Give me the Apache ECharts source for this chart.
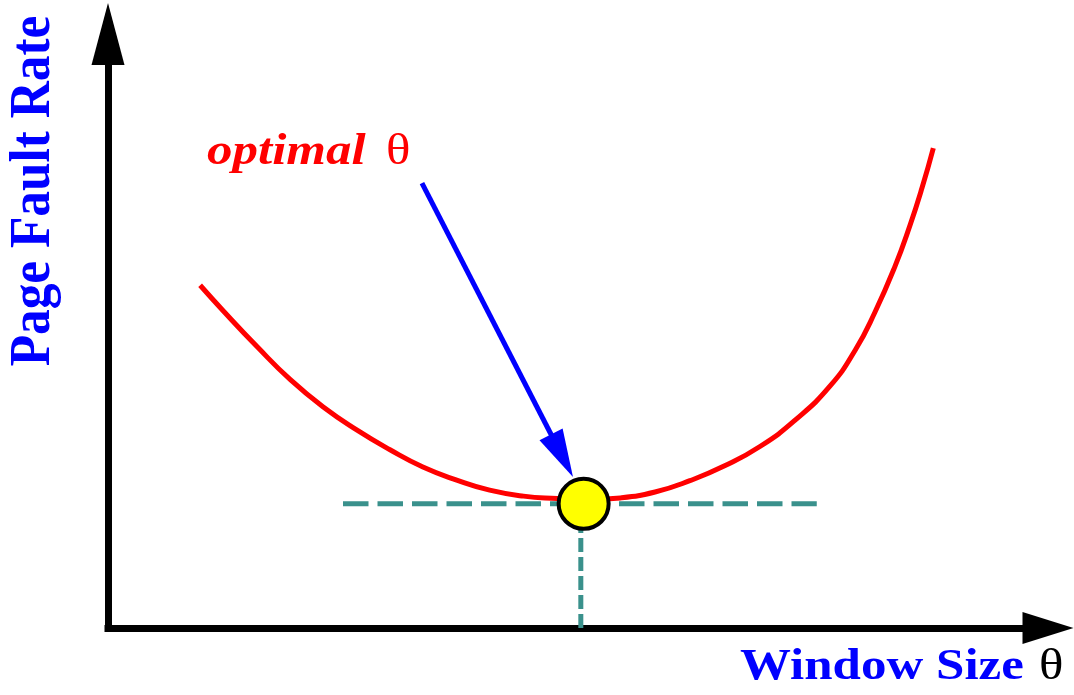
<!DOCTYPE html>
<html>
<head>
<meta charset="utf-8">
<script src="https://cdn.jsdelivr.net/npm/echarts@6/dist/echarts.min.js"></script>
<style>
  html, body { margin: 0; padding: 0; background: #fff; }
  #main { width: 1074px; height: 695px; }
</style>
</head>
<body>
<div id="main"></div>
<script>
// curve (axis units 0..100)
const windowSize = [9.8, 12.2, 15.9, 19.4, 22.9, 26.5, 30.0, 33.5, 37.1, 40.6, 44.2, 47.8,
  50.7, 54.5, 58.2, 61.9, 65.6, 69.4, 73.1, 76.8, 79.5, 81.6, 83.7, 85.3, 86.6, 87.8];
const faultRate = [57.7, 53.5, 47.3, 41.8, 37.2, 33.3, 30.0, 27.1, 24.9, 23.2, 22.2, 21.8,
  21.6, 21.9, 22.9, 24.8, 27.3, 30.6, 35.0, 40.7, 46.8, 53.2, 60.8, 67.7, 74.1, 80.8];

// optimal point and its guide lines
const optimalPoint = [50.6, 20.9];
const guideH = [[25.0, 20.9], [75.4, 20.9]];
const guideV = [[50.3, 0], [50.3, 20.9]];

// pointer arrow from the "optimal θ" label
const pointerFrom = [33.4, 74.9];
const pointerTo = [48.3, 29.0];

const labels = {
  xName: 'Window Size',
  yName: 'Page Fault Rate',
  note: 'optimal',
  theta: 'θ'
};

var myChart = echarts.init(document.getElementById('main'));

var option = {
  backgroundColor: '#fff',
  animation: false,
  grid: { left: 108, right: 26, top: 34, bottom: 67, outerBoundsMode: 'none' },
  xAxis: {
    type: 'value',
    min: 0,
    max: 100,
    axisLine: {
      show: true,
      symbol: ['none', 'triangle'],
      symbolSize: [32, 51],
      lineStyle: { color: '#000', width: 7, cap: 'square' }
    },
    axisTick: { show: false },
    axisLabel: { show: false },
    splitLine: { show: false }
  },
  yAxis: {
    type: 'value',
    min: 0,
    max: 100,
    axisLine: {
      show: true,
      symbol: ['none', 'triangle'],
      symbolSize: [33, 62],
      lineStyle: { color: '#000', width: 7, cap: 'square' }
    },
    axisTick: { show: false },
    axisLabel: { show: false },
    splitLine: { show: false }
  },
  series: [
    {
      type: 'line',
      data: guideH,
      symbol: 'none',
      lineStyle: { color: '#3a918c', width: 5, type: [25.5, 9] },
      z: 2
    },
    {
      type: 'line',
      data: guideV,
      symbol: 'none',
      lineStyle: { color: '#3a918c', width: 5, type: [14, 5] },
      z: 2
    },
    {
      type: 'line',
      data: windowSize.map((x, i) => [x, faultRate[i]]),
      smooth: 0.5,
      symbol: 'none',
      lineStyle: { color: '#ff0000', width: 5 },
      z: 3,
      markLine: {
        silent: true,
        symbol: ['none', 'triangle'],
        symbolSize: [26, 48],
        label: { show: false },
        lineStyle: { color: '#0000ff', width: 5, type: 'solid' },
        data: [[{ coord: pointerFrom }, { coord: pointerTo }]]
      }
    },
    {
      type: 'scatter',
      data: [optimalPoint],
      symbol: 'circle',
      symbolSize: 50,
      itemStyle: { color: '#ffff00', borderColor: '#000', borderWidth: 4, opacity: 1 },
      z: 5
    }
  ],
  graphic: [
    {
      type: 'text',
      x: 34,
      y: 191,
      rotation: Math.PI / 2,
      scaleX: 0.885,
      style: {
        text: labels.yName,
        font: 'bold 58px "Liberation Serif"',
        fill: '#0000ff',
        align: 'center',
        verticalAlign: 'middle'
      }
    },
    {
      type: 'text',
      x: 740,
      y: 667,
      scaleY: 0.885,
      style: {
        text: labels.xName,
        font: 'bold 51px "Liberation Serif"',
        fill: '#0000ff',
        align: 'left',
        verticalAlign: 'middle'
      }
    },
    {
      type: 'text',
      x: 1039,
      y: 667,
      scaleY: 0.885,
      style: {
        text: labels.theta,
        font: '51px "Liberation Serif"',
        fill: '#000',
        align: 'left',
        verticalAlign: 'middle'
      }
    },
    {
      type: 'text',
      x: 207,
      y: 152,
      scaleY: 0.885,
      style: {
        text: labels.note,
        font: 'italic bold 51px "Liberation Serif"',
        fill: '#ff0000',
        align: 'left',
        verticalAlign: 'middle'
      }
    },
    {
      type: 'text',
      x: 386,
      y: 152,
      scaleY: 0.885,
      style: {
        text: labels.theta,
        font: '51px "Liberation Serif"',
        fill: '#ff0000',
        align: 'left',
        verticalAlign: 'middle'
      }
    }
  ]
};

myChart.setOption(option);
</script>
</body>
</html>
